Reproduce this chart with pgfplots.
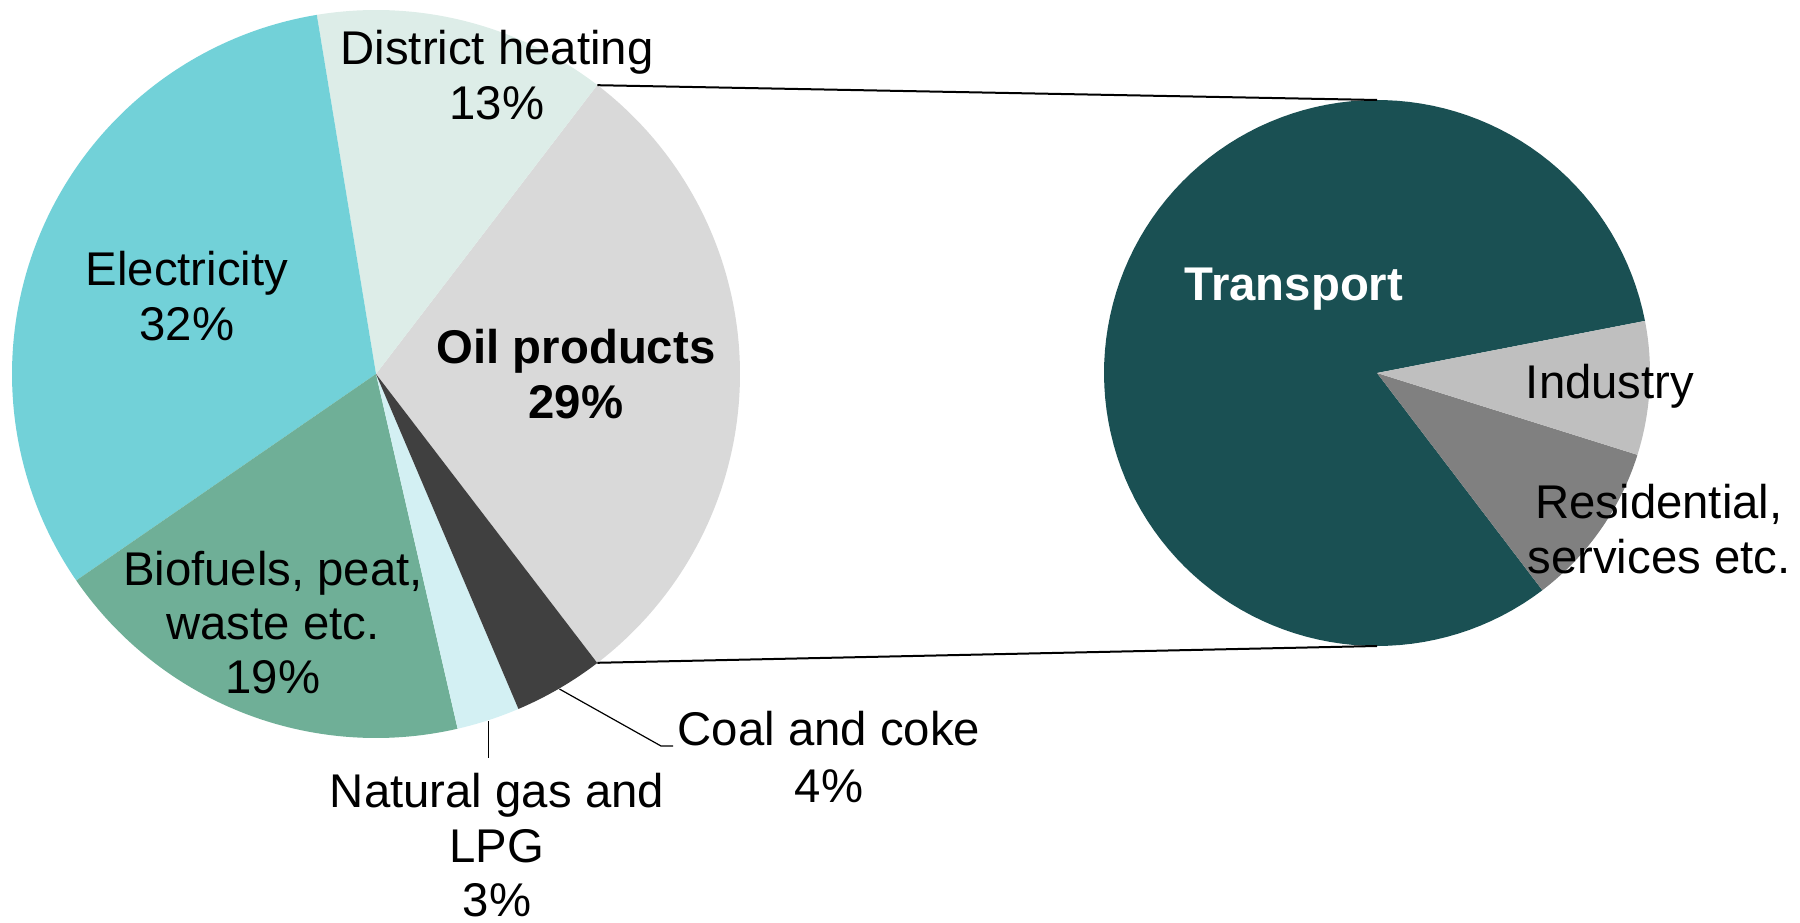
\documentclass[border=0pt]{standalone}
\usepackage{pgfplots}
\pgfplotsset{compat=1.18}
\usepackage{fontspec}
\setmainfont{Liberation Sans}
\definecolor{cDH}{HTML}{DDEDE8}
\definecolor{cEl}{HTML}{72D1D8}
\definecolor{cOil}{HTML}{D9D9D9}
\definecolor{cBio}{HTML}{6FAF97}
\definecolor{cNG}{HTML}{D3F0F3}
\definecolor{cCoal}{HTML}{404040}
\definecolor{cTr}{HTML}{1A5053}
\definecolor{cInd}{HTML}{BFBFBF}
\definecolor{cRes}{HTML}{808080}
% slice: cx, cy, r, offset angle, cumulative start (%), value (%), colour
\newcommand{\slice}[7]{%
  \pgfmathsetmacro\aS{#4+3.6*(#5)}%
  \pgfmathsetmacro\aE{#4+3.6*(#5+#6)}%
  \addplot[fill=#7, draw=none, domain=\aS:\aE, samples=120, variable=\t]
    ({#1+#3*cos(\t)},{#2+#3*sin(\t)}) -- (axis cs:#1,#2) -- cycle;
}
\tikzset{lbl/.style={anchor=base, inner sep=0pt, font=\fontsize{11.83pt}{13.75pt}\selectfont}}
\begin{document}
\begin{tikzpicture}
\begin{axis}[x=0.25pt, y=0.25pt, xmin=0, xmax=1800, ymin=0, ymax=922,
  hide axis, clip=false]
% Left pie: total final consumption shares (%), oil centred at 0 deg
% offset -52.56 = -(29.2/2)*3.6
\slice{376}{548}{364}{-52.56}{0}{29.2}{cOil}
\slice{376}{548}{364}{-52.56}{29.2}{13.0}{cDH}
\slice{376}{548}{364}{-52.56}{42.2}{32.0}{cEl}
\slice{376}{548}{364}{-52.56}{74.2}{19.0}{cBio}
\slice{376}{548}{364}{-52.56}{93.2}{2.8}{cNG}
\slice{376}{548}{364}{-52.56}{96.0}{4.0}{cCoal}
% Right pie: oil products by sector (%)
\slice{1377}{549}{273}{11}{0}{82.3}{cTr}
\slice{1377}{549}{273}{11}{82.3}{9.8}{cRes}
\slice{1377}{549}{273}{11}{92.1}{7.9}{cInd}
% connector lines
\addplot[black, line width=0.5pt] coordinates {(597.3,836.8) (1377,822)};
\addplot[black, line width=0.5pt] coordinates {(597.3,259.2) (1377,276)};
% leader lines
\addplot[black, line width=0.3pt] coordinates {(488.5,201) (488.5,164)};
\addplot[black, line width=0.3pt] coordinates {(559.4,233) (661,176) (673,176)};
% labels
\node[lbl] at (axis cs:497,857) {District heating};
\node[lbl] at (axis cs:497,802) {13\%};
\node[lbl] at (axis cs:187,636) {Electricity};
\node[lbl] at (axis cs:187,581) {32\%};
\node[lbl, font=\fontsize{11.83pt}{13.75pt}\selectfont\bfseries] at (axis cs:576,558) {Oil products};
\node[lbl, font=\fontsize{11.83pt}{13.75pt}\selectfont\bfseries] at (axis cs:576,503) {29\%};
\node[lbl] at (axis cs:273,337) {Biofuels, peat,};
\node[lbl] at (axis cs:273,282) {waste etc.};
\node[lbl] at (axis cs:273,228) {19\%};
\node[lbl] at (axis cs:497,115) {Natural gas and};
\node[lbl] at (axis cs:497,60) {LPG};
\node[lbl] at (axis cs:497,6) {3\%};
\node[lbl] at (axis cs:829,177) {Coal and coke};
\node[lbl] at (axis cs:829,120) {4\%};
\node[lbl, text=white, font=\fontsize{11.83pt}{13.75pt}\selectfont\bfseries] at (axis cs:1294,621) {Transport};
\node[lbl] at (axis cs:1610,523) {Industry};
\node[lbl] at (axis cs:1659,403) {Residential,};
\node[lbl] at (axis cs:1659,348) {services etc.};
\end{axis}
\pgfresetboundingbox
\path (0,0) rectangle (450pt,230.5pt);
\end{tikzpicture}
\end{document}
